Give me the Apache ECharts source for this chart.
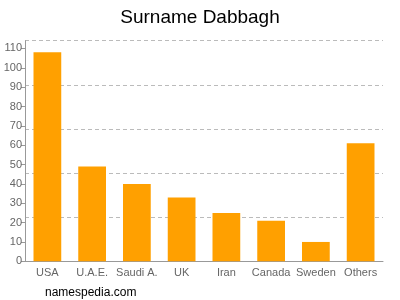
<!DOCTYPE html>
<html>
<head>
<meta charset="utf-8">
<script src="https://cdn.jsdelivr.net/npm/echarts@6/dist/echarts.min.js"></script>
<style>html,body{margin:0;padding:0;background:#fff}#c{width:400px;height:300px}</style>
</head>
<body>
<div id="c"></div>
<script>
var categories = ["USA", "U.A.E.", "Saudi A.", "UK", "Iran", "Canada", "Sweden", "Others"];
var values = [108, 49, 40, 33, 25, 21, 10, 61];
var yMax = 114;
var chart = echarts.init(document.getElementById('c'), null, {renderer: 'canvas'});
chart.setOption({
  animation: false,
  title: {
    text: 'Surname Dabbagh', left: 'center', top: 3,
    textStyle: {fontFamily: 'Liberation Sans, Arial, sans-serif', fontSize: 19, fontWeight: 'normal', color: '#000'}
  },
  graphic: [{
    type: 'text', left: 45, top: 287,
    style: {text: 'namespedia.com', font: '12px "Liberation Sans", Arial, sans-serif', fill: '#000'}
  }],
  grid: {left: 25, right: 17, top: 40.7, bottom: 38.7, containLabel: false},
  xAxis: {
    type: 'category', data: categories,
    axisLine: {lineStyle: {color: '#999'}},
    axisTick: {show: false},
    axisLabel: {color: '#666', fontSize: 11, fontFamily: 'Liberation Sans, Arial, sans-serif', margin: 6, interval: 0}
  },
  yAxis: [{
    type: 'value', min: 0, max: yMax, interval: 10,
    axisLine: {show: true, lineStyle: {color: '#999'}},
    axisTick: {show: true, length: 4, lineStyle: {color: '#999'}},
    axisLabel: {color: '#666', fontSize: 11, fontFamily: 'Liberation Sans, Arial, sans-serif', margin: 3,
      showMaxLabel: false},
    splitLine: {show: false}
  }, {
    type: 'value', min: 0, max: yMax, interval: yMax / 5, position: 'left',
    axisLine: {show: false}, axisTick: {show: false}, axisLabel: {show: false},
    splitLine: {show: true, lineStyle: {color: '#bbb', type: [4, 3], width: 1}}
  }],
  series: [{
    type: 'bar', data: values, barWidth: '62%',
    itemStyle: {color: '#ffa000'}
  }]
});
</script>
</body>
</html>
